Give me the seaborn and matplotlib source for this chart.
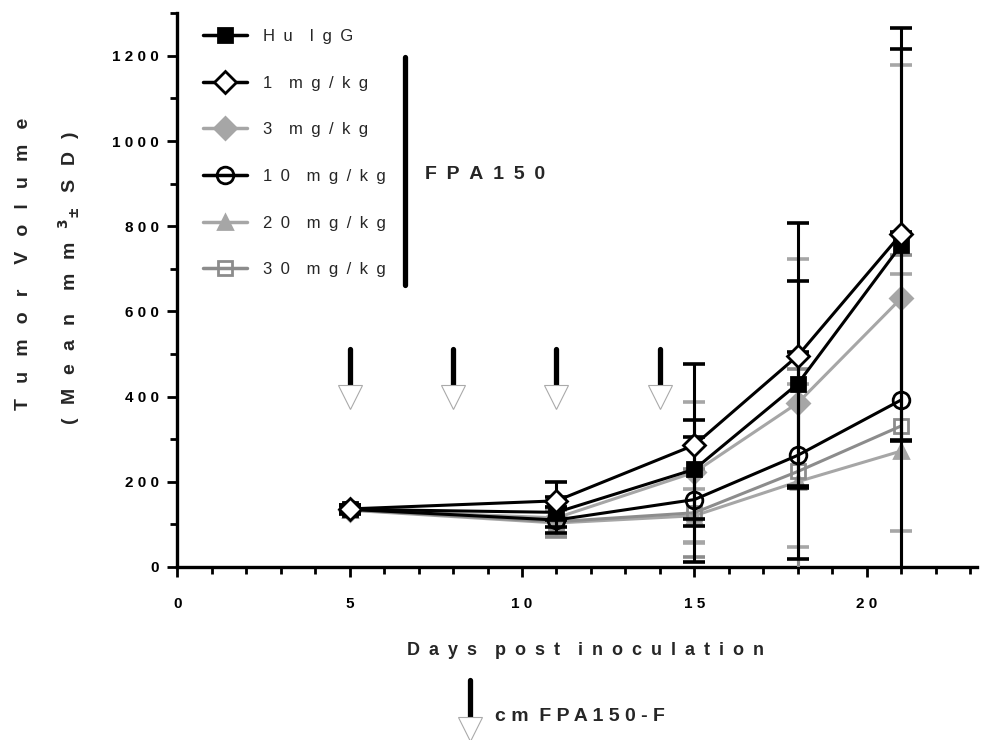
import matplotlib
matplotlib.use("Agg")
import matplotlib.pyplot as plt
import seaborn as sns
import pandas as pd
from matplotlib.lines import Line2D
from matplotlib.ticker import MultipleLocator, FixedLocator, FuncFormatter

# data (mean and SD, mm^3)
days = [5, 11, 15, 18, 21]
groups = ["Hu IgG", "1 mg/kg", "3 mg/kg", "10 mg/kg", "20 mg/kg", "30 mg/kg"]

hu_igg_mean = [135, 128, 229, 430, 756]
hu_igg_sd = [10, 35, 116, 241, 460]
mg1_mean = [136, 155, 286, 496, 782]
mg1_sd = [10, 45, 191, 312, 483]
mg3_mean = [134, 115, 222, 385, 631]
mg3_sd = [8, 40, 165, 338, 547]
mg10_mean = [135, 110, 158, 262, 392]
mg10_sd = [8, 30, 146, 243, 395]
mg20_mean = [133, 103, 120, 200, 272]
mg20_sd = [8, 30, 62, 230, 415]
mg30_mean = [134, 106, 127, 224, 331]
mg30_sd = [8, 35, 103, 241, 401]

dose_days = [5, 8, 11, 14]

means = [hu_igg_mean, mg1_mean, mg3_mean, mg10_mean, mg20_mean, mg30_mean]
sds = [hu_igg_sd, mg1_sd, mg3_sd, mg10_sd, mg20_sd, mg30_sd]


def spread(text, gap=" ", word_gap=None):
    # letter-spaced text like the original figure
    word_gap = word_gap if word_gap is not None else gap * 2
    return word_gap.join(gap.join(w) for w in text.split(" "))


rows = []
for g, m, s in zip(groups, means, sds):
    for d, mv, sv in zip(days, m, s):
        rows.append({"group": g, "day": d, "mean": mv, "sd": sv})
df = pd.DataFrame(rows)

LIGHT = "#a6a6a6"
MID = "#8c8c8c"
styles = {
    "Hu IgG":   dict(color="black", marker="s", mfc="black", ms=10, z=6),
    "1 mg/kg":  dict(color="black", marker="D", mfc="white", ms=11, z=7),
    "3 mg/kg":  dict(color=LIGHT, marker="D", mfc=LIGHT, ms=11, z=3),
    "10 mg/kg": dict(color="black", marker="o", mfc="none", ms=12, z=5),
    "20 mg/kg": dict(color=LIGHT, marker="^", mfc=LIGHT, ms=10, z=2),
    "30 mg/kg": dict(color=MID, marker="s", mfc="none", ms=10, z=4),
}

sns.set_theme(style="ticks")
plt.rcParams["font.family"] = ["Liberation Sans", "DejaVu Sans"]
plt.rcParams["font.weight"] = "bold"

fig = plt.figure(figsize=(9.96, 7.4), dpi=100)
ax = fig.add_axes([0.178, 0.234, 0.803, 0.748])

handles = []
for g in groups:
    st = styles[g]
    sub = df[df["group"] == g]
    ax.errorbar(sub["day"], sub["mean"], yerr=sub["sd"], fmt="none",
                ecolor=st["color"], elinewidth=2.2, capsize=8, capthick=2.6,
                zorder=st["z"])
    sns.lineplot(data=sub, x="day", y="mean", ax=ax, color=st["color"],
                 marker=st["marker"], markersize=st["ms"],
                 markerfacecolor=st["mfc"], markeredgecolor=st["color"],
                 markeredgewidth=2, linewidth=2.2, zorder=st["z"] + 0.5,
                 errorbar=None)
    handles.append(Line2D([0], [0], color=st["color"], marker=st["marker"],
                          markersize=st["ms"], markerfacecolor=st["mfc"],
                          markeredgecolor=st["color"], markeredgewidth=2,
                          linewidth=2.5))

# dosing arrows
for d in dose_days:
    ax.plot([d, d], [425, 512], color="black", lw=3.8, solid_capstyle="round",
            zorder=8)
    ax.plot([d], [399], marker="v", markersize=17, markerfacecolor="white",
            markeredgecolor="#aaaaaa", markeredgewidth=0.8, linestyle="none",
            zorder=8)

ax.set_xlim(0, 23.2)
ax.set_ylim(0, 1300)
ax.xaxis.set_major_locator(FixedLocator([0, 5, 10, 15, 20]))
ax.xaxis.set_minor_locator(MultipleLocator(1))
ax.yaxis.set_major_locator(FixedLocator([0, 200, 400, 600, 800, 1000, 1200]))
ax.yaxis.set_minor_locator(MultipleLocator(100))
spaced = FuncFormatter(lambda v, p: " ".join(str(int(round(v)))))
ax.xaxis.set_major_formatter(spaced)
ax.yaxis.set_major_formatter(spaced)

for side in ["top", "right"]:
    ax.spines[side].set_visible(False)
for side in ["left", "bottom"]:
    ax.spines[side].set_linewidth(2.4)
    ax.spines[side].set_color("black")
ax.tick_params(which="major", length=7, width=2, direction="out",
               labelsize=11, colors="black")
ax.tick_params(axis="x", which="major", pad=15)
ax.tick_params(axis="y", which="major", pad=6)
ax.tick_params(which="minor", length=5, width=2, direction="out",
               colors="black")
for lab in ax.get_xticklabels() + ax.get_yticklabels():
    lab.set_fontweight("bold")

EN = "\u2002"
THIN = "\u2009"
ax.set_xlabel(spread("Days post inoculation", EN, EN * 2), fontsize=13,
              fontweight="bold", labelpad=22)
ax.xaxis.label.set_x(0.51)
ax.set_ylabel("")
fig.text(0.024, 0.643, spread("Tumor Volume", EN + " ", EN * 2 + " "),
         rotation=90, fontsize=14, fontweight="bold", ha="center", va="center")
fig.text(0.069, 0.624,
         (EN + THIN).join(["(", "M", "e", "a", "n" + EN, "m", "m",
                           "$^{3}$$_{\\pm}$", "S", "D", ")"]),
         rotation=90, fontsize=14, fontweight="bold", ha="center",
         va="center")

legend_labels = [spread(g, EN, EN * 2) for g in groups]
leg = ax.legend(handles, legend_labels, loc="upper left",
                bbox_to_anchor=(0.022, 0.987), frameon=False, fontsize=12,
                handlelength=2.6, handletextpad=1.0, labelspacing=1.9,
                borderpad=0)
for t in leg.get_texts():
    t.set_fontweight("normal")

ax.plot([0.285, 0.285], [0.509, 0.921], transform=ax.transAxes, color="black",
        lw=3.8, solid_capstyle="round", clip_on=False)
ax.text(0.31, 0.708, spread("FPA150", EN), transform=ax.transAxes,
        fontsize=14, fontweight="bold", ha="left", va="center")

# bottom key for the dosing arrow
fig.add_artist(Line2D([0.472, 0.472], [0.031, 0.081], transform=fig.transFigure,
                      color="black", lw=3.8, solid_capstyle="round"))
fig.add_artist(Line2D([0.472], [0.015], transform=fig.transFigure, marker="v",
                      markersize=17, markerfacecolor="white",
                      markeredgecolor="#aaaaaa", markeredgewidth=0.8,
                      linestyle="none"))
fig.text(0.497, 0.032, "c m  F P A 1 5 0 - F", fontsize=14, fontweight="bold",
         ha="left", va="center")

fig.savefig("out.png", dpi=100)
